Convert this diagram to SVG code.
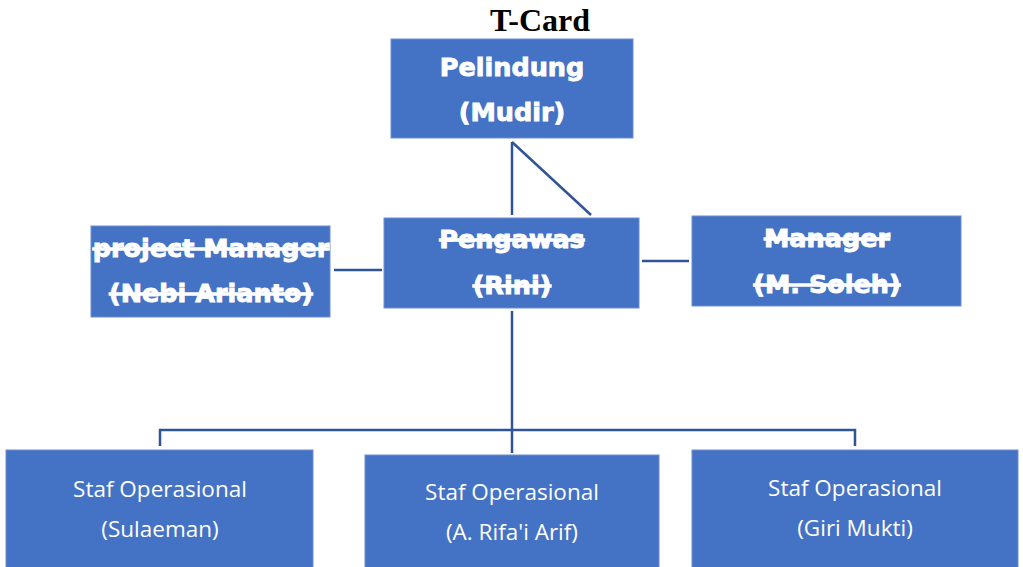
<svg xmlns="http://www.w3.org/2000/svg" width="1023" height="567" viewBox="0 0 1023 567">
<style>
.box{fill:#4472C4;stroke:#6C8FD0;stroke-width:1}
.h{font-family:"DejaVu Sans",sans-serif;font-weight:bold;font-size:25.5px;fill:#fff;text-anchor:middle;stroke:#fff;stroke-width:0.9}
.s{text-decoration:line-through}
.n{font-family:"Open Sans","Noto Sans",sans-serif;font-size:22.5px;fill:#fff;text-anchor:middle}
.c{stroke:#2F5597;stroke-width:2.5;fill:none}
</style>
<rect width="1023" height="567" fill="#fff"/>
<text x="540" y="31" font-family="Liberation Serif,serif" font-weight="bold" font-size="32" text-anchor="middle" fill="#000">T-Card</text>
<g id="connectors">
<line class="c" x1="512" y1="142" x2="512" y2="215"/>
<line class="c" x1="512" y1="142" x2="591" y2="215"/>
<line class="c" x1="334" y1="270" x2="382" y2="270"/>
<line class="c" x1="642" y1="261" x2="689" y2="261"/>
<line class="c" x1="512" y1="311" x2="512" y2="453"/>
<polyline class="c" points="160,446 160,430 855,430 855,446"/>
</g>
<g id="pelindung">
<rect class="box" x="391" y="39" width="242" height="99"/>
<text class="h" x="512" y="76">Pelindung</text>
<text class="h" x="512" y="121">(Mudir)</text>
</g>
<g id="pengawas">
<rect class="box" x="384" y="218" width="255" height="90"/>
<text class="h s" x="512" y="248">Pengawas</text>
<text class="h s" x="512" y="294">(Rini)</text>
</g>
<g id="project-manager">
<rect class="box" x="91" y="226" width="239" height="91"/>
<text class="h s" x="211" y="257">project Manager</text>
<text class="h s" x="211" y="302">(Nebi Arianto)</text>
</g>
<g id="manager">
<rect class="box" x="692" y="216" width="269" height="90"/>
<text class="h s" x="827" y="247">Manager</text>
<text class="h s" x="827" y="293">(M. Soleh)</text>
</g>
<g id="staf1">
<rect class="box" x="6" y="450" width="307" height="120"/>
<text class="n" x="160" y="497">Staf Operasional</text>
<text class="n" x="160" y="537">(Sulaeman)</text>
</g>
<g id="staf2">
<rect class="box" x="365" y="455" width="294" height="115"/>
<text class="n" x="512" y="500">Staf Operasional</text>
<text class="n" x="512" y="540">(A. Rifa'i Arif)</text>
</g>
<g id="staf3">
<rect class="box" x="692" y="450" width="326" height="120"/>
<text class="n" x="855" y="496">Staf Operasional</text>
<text class="n" x="855" y="536">(Giri Mukti)</text>
</g>
</svg>
